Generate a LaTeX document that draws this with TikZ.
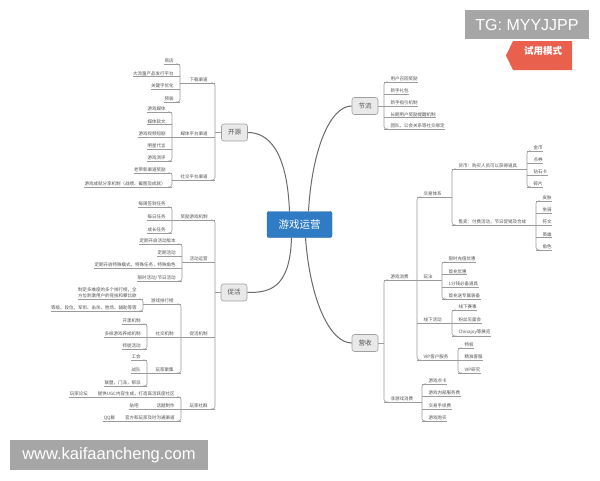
\documentclass[tikz,border=0pt]{standalone}
\usepackage{fontspec}
\setmainfont{Noto Sans CJK SC}
\newfontfamily\wmfont{Liberation Sans}
\definecolor{lncol}{HTML}{9B9B9B}
\definecolor{txtcol}{HTML}{505050}
\definecolor{boxfill}{HTML}{E9E9E9}
\definecolor{boxborder}{HTML}{A0A0A0}
\definecolor{rootfill}{HTML}{2F7CC5}
\definecolor{rootborder}{HTML}{2866A8}
\definecolor{curvecol}{HTML}{6B6B6B}
\definecolor{wmgray}{HTML}{A6A6A6}
\definecolor{tagred}{HTML}{E9604D}
\newcommand\lleaf[4]{\node[lt,anchor=south east] (#1) at ({#2-6},#3) {#4}; \draw[ln] (#1.south west) -- (#2,#3);}
\newcommand\lmid[5]{\node[lt,anchor=south east] (#1) at ({#3-7},#4) {#5}; \draw[ln] (#2,#4) -- (#3,#4);}
\newcommand\rleaf[4]{\node[lt,anchor=south west] (#1) at ({#2+6},#3) {#4}; \draw[ln] (#2,#3) -- (#1.south east);}
\newcommand\rmid[5]{\node[lt,anchor=south west] (#1) at ({#2+6},#4) {#5}; \draw[ln] (#2,#4) -- (#3,#4);}
\newcommand\vbr[4]{\draw[ln,rounded corners=2.5pt] ({#1+(#4)},#2) -- (#1,#2) -- (#1,#3) -- ({#1+(#4)},#3);}
\begin{document}
\begin{tikzpicture}[x=1pt,y=-1pt,
  ln/.style={draw=lncol, line width=0.55pt},
  lt/.style={font=\fontsize{4.5}{5.6}\selectfont, text=txtcol, inner xsep=0.3pt, inner ysep=0.9pt},
  mainbox/.style={draw=boxborder, fill=boxfill, rounded corners=2.5pt, minimum width=26pt, minimum height=17pt, inner sep=0pt, font=\fontsize{6.5}{7}\selectfont, text=txtcol, line width=0.6pt},
  rootbox/.style={draw=rootborder, fill=rootfill, rounded corners=2pt, minimum width=65pt, minimum height=26pt, inner sep=0pt, font=\fontsize{10.5}{12}\selectfont, text=white},
  curve/.style={draw=curvecol, line width=1pt},
  wmbox/.style={fill=wmgray, inner sep=0pt, text=white}
]
\useasboundingbox (0,0) rectangle (600,480);
\fill[white] (0,0) rectangle (600,480);

% main nodes
\node[rootbox] (root) at (299.5,224.5) {游戏运营};
\node[mainbox] (ky) at (234.5,132.5) {开源};
\node[mainbox] (cu) at (234,292.5) {促活};
\node[mainbox] (jl) at (365,106) {节流};
\node[mainbox] (ys) at (365,343) {营收};

\draw[curve] ([xshift=-10pt]root.north) .. controls (287,150) and (268,132.5) .. (ky.east);
\draw[curve] ([xshift=9pt]root.north) .. controls (312,150) and (330,106) .. (jl.west);
\draw[curve] ([xshift=-8pt]root.south) .. controls (290,290) and (268,292.5) .. (cu.east);
\draw[curve] ([xshift=6pt]root.south) .. controls (310,300) and (330,343) .. (ys.west);

% ===== 开源 =====
\vbr{215}{83}{180}{-4}
\draw[ln] (ky.west) -- (215,132.5);
\lmid{a1}{180}{215}{83}{下载渠道}
\vbr{180}{64}{102}{-4}
\lleaf{a11}{180}{64}{商店}
\lleaf{a12}{180}{76.5}{大流量产品发行平台}
\lleaf{a13}{180}{89}{关键字优化}
\lleaf{a14}{180}{102}{预装}
\lmid{a2}{172}{215}{137}{媒体平台渠道}
\vbr{172}{112}{161}{-4}
\lleaf{a21}{172}{112}{游戏媒体}
\lleaf{a22}{172}{124.5}{媒体软文}
\lleaf{a23}{172}{137}{游戏视频短剧}
\lleaf{a24}{172}{149}{明星代言}
\lleaf{a25}{172}{161}{游戏测评}
\lmid{a3}{172}{215}{180}{社交平台渠道}
\vbr{172}{173}{187}{-4}
\lleaf{a31}{172}{173}{老带新渠道奖励}
\lleaf{a32}{172}{187}{游戏成就分享机制（战绩、截图及成就）}

% ===== 促活 =====
\vbr{215}{220}{409}{-4}
\draw[ln] (cu.west) -- (215,292.5);
\lmid{b1}{172}{215}{220}{奖励游戏机制}
\vbr{172}{207}{233}{-4}
\lleaf{b11}{172}{207}{每周签到任务}
\lleaf{b12}{172}{220}{每日任务}
\lleaf{b13}{172}{233}{成长任务}
\lmid{b2}{182}{215}{262}{活动运营}
\vbr{182}{244}{281}{-4}
\lleaf{b21}{182}{244}{定期开启活动版本}
\lleaf{b22}{182}{256}{定期活动}
\lleaf{b23}{182}{268.5}{定期开启特殊模式，特殊任务，特殊角色}
\lleaf{b24}{182}{281}{限时活动/节日活动}
\lmid{b3}{181}{215}{337}{促活机制}
\vbr{181}{304}{373}{-4}
\lmid{b31}{143}{181}{304}{游戏排行榜}
\vbr{143}{299}{311}{-4}
\node[lt,anchor=south east,align=left] (b311) at (137,299) {制定多维度的多个排行榜，全\\方位刺激用户的竞技和攀比欲};
\draw[ln] (b311.south west) -- (143,299);
\lleaf{b312}{143}{311}{等级、段位、军衔、击杀、胜场、辅助等等}
\lmid{b32}{147}{181}{337}{社交机制}
\vbr{147}{324}{349}{-4}
\lleaf{b321}{147}{324}{开黑机制}
\lleaf{b322}{147}{337}{多样游戏养成机制}
\lleaf{b323}{147}{349}{师徒活动}
\lmid{b33}{147}{181}{373}{玩家聚集}
\vbr{147}{360}{386}{-4}
\lleaf{b331}{147}{360}{工会}
\lleaf{b332}{147}{373}{战队}
\lleaf{b333}{147}{386}{联盟，门派，帮派}
\lmid{b4}{181}{215}{409}{玩家社群}
\vbr{181}{397}{421}{-4}
\node[lt,anchor=south east] (b41) at (175,397) {提供UGC内容生成，打造高活跃度社区};
\node[lt,anchor=south east] (b411) at ([xshift=-9pt]b41.south west) {玩家论坛};
\draw[ln] (b411.south west) -- (181,397);
\node[lt,anchor=south east] (b42) at (175,409) {话题制作};
\node[lt,anchor=south east] (b421) at (139,409) {贴吧};
\draw[ln] (b421.south west) -- (181,409);
\node[lt,anchor=south east] (b43) at (175,421) {官方和玩家及时沟通渠道};
\node[lt,anchor=south east] (b431) at ([xshift=-9pt]b43.south west) {QQ群};
\draw[ln] (b431.south west) -- (181,421);

% ===== 节流 =====
\draw[ln] (jl.east) -- (384,106);
\vbr{384}{82}{129}{4}
\rleaf{c1}{384}{82}{用户召回奖励}
\rleaf{c2}{384}{94}{新手礼包}
\rleaf{c3}{384}{106}{新手指引机制}
\rleaf{c4}{384}{117.5}{长期用户奖励提醒机制}
\rleaf{c5}{384}{129}{团队、公会关系等社交绑定}

% ===== 营收 =====
\draw[ln] (ys.east) -- (384,343);
\vbr{384}{280}{402}{4}
\rmid{d1}{384}{417}{280}{游戏消费}
\vbr{417}{197}{360}{4}
\rmid{d11}{417}{452}{197}{交易体系}
\vbr{452}{169}{225}{4}
\rmid{d111}{452}{527}{169}{货币：购买人员可以获得道具}
\vbr{527}{151}{187}{4}
\rleaf{d1111}{527}{151}{金币}
\rleaf{d1112}{527}{163}{点券}
\rleaf{d1113}{527}{175}{钻石卡}
\rleaf{d1114}{527}{187}{碎片}
\rmid{d112}{452}{536}{225}{售卖：付费活动，节日促销及合成}
\vbr{536}{201}{250}{4}
\rleaf{d1121}{536}{201}{皮肤}
\rleaf{d1122}{536}{213}{坐骑}
\rleaf{d1123}{536}{225}{符文}
\rleaf{d1124}{536}{237.5}{英雄}
\rleaf{d1125}{536}{250}{角色}
\rmid{d12}{417}{442}{280}{玩法}
\vbr{442}{262}{299}{4}
\rleaf{d121}{442}{262}{限时充值优惠}
\rleaf{d122}{442}{274.5}{首充优惠}
\rleaf{d123}{442}{287}{1分钱必备道具}
\rleaf{d124}{442}{299}{首充送专属装备}
\rmid{d13}{417}{452}{323}{线下活动}
\vbr{452}{310}{336}{4}
\rleaf{d131}{452}{310}{线下赛事}
\rleaf{d132}{452}{323}{粉丝见面会}
\rleaf{d133}{452}{336}{Chinajoy等展览}
\rmid{d14}{417}{458}{360}{VIP客户服务}
\vbr{458}{348}{373}{4}
\rleaf{d141}{458}{348}{特权}
\rleaf{d142}{458}{360}{精准客服}
\rleaf{d143}{458}{373}{VIP研究}
\rmid{d2}{384}{422}{402}{非游戏消费}
\vbr{422}{384}{421}{4}
\rleaf{d21}{422}{384}{游戏点卡}
\rleaf{d22}{422}{396}{游戏内部服务费}
\rleaf{d23}{422}{409}{交易手续费}
\rleaf{d24}{422}{421}{游戏购买}

% ===== watermarks =====
\node[wmbox, minimum width=124pt, minimum height=29pt, font=\wmfont\fontsize{16}{16}\selectfont] (tg) at (527,24.5) {TG: MYYJJPP};
\fill[tagred] (506,55.5) -- (513,41) -- (572,41) -- (572,70) -- (513,70) -- cycle;
\node[text=white, inner sep=0pt, font=\fontsize{9.5}{10}\selectfont\bfseries] (tag) at (543,51) {试用模式};
\node[wmbox, minimum width=198pt, minimum height=30pt, font=\wmfont\fontsize{16.5}{17}\selectfont] (url) at (109,455) {www.kaifaancheng.com};
\end{tikzpicture}
\end{document}
